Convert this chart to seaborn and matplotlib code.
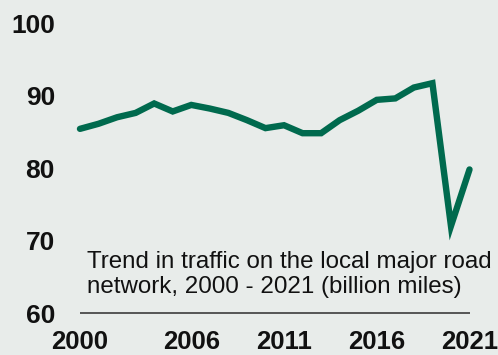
import pandas as pd
import seaborn as sns
import matplotlib.pyplot as plt

# traffic on local major roads, billion miles
years = list(range(2000, 2022))
traffic = [85.4, 86.1, 87.0, 87.6, 88.9, 87.8, 88.7, 88.2, 87.6, 86.6, 85.5,
           85.9, 84.8, 84.8, 86.6, 87.9, 89.4, 89.6, 91.1, 91.7, 72.0, 79.8]
xtick_years = [2000, 2006, 2011, 2016, 2021]
ytick_values = [60, 70, 80, 90, 100]
caption = "Trend in traffic on the local major road\nnetwork, 2000 - 2021 (billion miles)"

bg = '#e8ecea'
green = '#006a4e'

sns.set_style('white')
plt.rcParams['font.family'] = ['Liberation Sans', 'DejaVu Sans']

df = pd.DataFrame({'year': years, 'traffic': traffic})

fig = plt.figure(figsize=(4.98, 3.55), dpi=100, facecolor=bg)
ax = fig.add_axes([0.1606, 0.1183, 0.7822, 0.8169])
ax.set_facecolor(bg)

sns.lineplot(data=df, x='year', y='traffic', ax=ax, color=green, linewidth=4.6,
             solid_joinstyle='miter', clip_on=False)

ax.hlines(60, 2000, 2021, color='#3c3c3c', linewidth=1.2, clip_on=False, zorder=1)

ax.set_xlim(2000, 2021)
ax.set_ylim(60, 100)
ax.set_xticks(xtick_years, labels=[str(y) for y in xtick_years],
              fontweight='bold', fontsize=18.5, color='#111111')
ax.set_yticks(ytick_values, labels=[str(v) for v in ytick_values],
              fontweight='bold', fontsize=19, color='#111111')
ax.tick_params(axis='both', length=0)
ax.tick_params(axis='y', pad=18)
ax.tick_params(axis='x', pad=12)
ax.set_xlabel('')
ax.set_ylabel('')
sns.despine(ax=ax, left=True, bottom=True, top=True, right=True)

ax.text(2000.4, 62.76, caption, fontsize=17.4, va='baseline', ha='left',
        linespacing=1.18, color='#111111')

fig.savefig('out.png', dpi=100, facecolor=bg)
